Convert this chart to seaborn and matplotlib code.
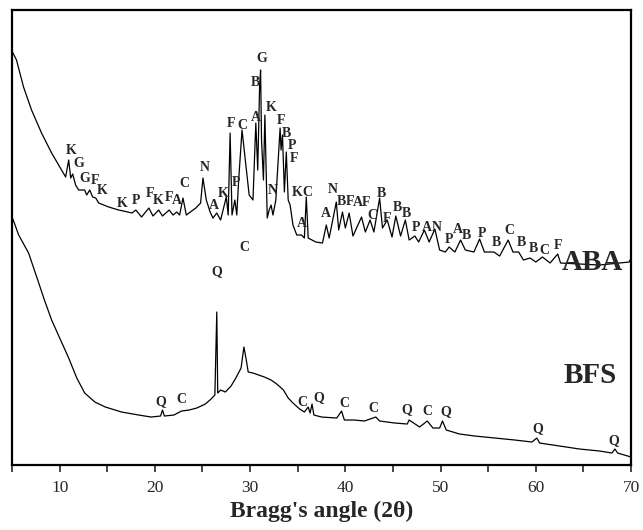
import matplotlib
matplotlib.use("Agg")
import matplotlib.pyplot as plt
import seaborn as sns
import pandas as pd

# ABA trace (2theta, intensity in arbitrary units)
aba_2theta = [5.05, 5.47, 6.21, 7.05, 8.1, 9.16, 10.2, 10.63, 10.95, 11.16, 11.37, 11.68, 12.0,
              12.63, 12.84, 13.16, 13.47, 13.79, 14.1, 15.16, 16.2, 16.7, 17.6, 18.0, 18.6,
              19.37, 19.8, 20.4, 20.8, 21.5, 21.9, 22.3, 22.6, 22.95, 23.3, 24.3, 24.8, 25.05,
              25.4, 25.8, 26.1, 26.5, 26.9, 27.5, 27.7, 27.9, 28.1, 28.4, 28.6, 28.8, 29.15,
              29.5, 29.9, 30.3, 30.6, 30.8, 31.0, 31.1, 31.2, 31.4, 31.55, 31.8, 32.0, 32.2,
              32.4, 32.7, 33.15, 33.25, 33.4, 33.6, 33.8, 34.0, 34.2, 34.5, 34.9, 35.4, 35.7,
              35.9, 36.1, 36.9, 37.6, 38.0, 38.3, 39.05, 39.3, 39.7, 40.0, 40.4, 40.8, 41.7,
              42.1, 42.6, 43.0, 43.6, 43.9, 44.4, 44.9, 45.3, 45.8, 46.3, 46.7, 47.3, 47.7,
              48.3, 48.8, 49.4, 49.9, 50.5, 50.9, 51.5, 52.1, 52.6, 53.5, 54.1, 54.6, 55.2,
              55.6, 56.2, 57.1, 57.6, 58.2, 58.7, 59.4, 60.0, 60.7, 61.5, 62.3, 62.6, 64.6,
              66.7, 68.8, 69.8, 70.0]
aba_intensity = [413, 405, 378, 355, 332, 312, 295, 288, 305, 287, 291, 280, 275,
                 275, 270, 275, 268, 267, 262, 258, 255, 254, 252, 255, 248,
                 257, 249, 255, 249, 255, 250, 253, 250, 267, 250, 257, 262, 287,
                 265, 253, 247, 252, 245, 268, 250, 332, 250, 265, 250, 285, 335,
                 305, 270, 265, 342, 295, 380, 395, 325, 285, 350, 247, 255, 260,
                 250, 265, 337, 315, 330, 273, 313, 265, 260, 240, 230, 230, 227,
                 268, 227, 223, 222, 240, 227, 263, 235, 253, 237, 252, 229, 248,
                 233, 245, 233, 267, 237, 245, 228, 249, 229, 245, 225, 229, 223,
                 235, 223, 236, 215, 213, 218, 213, 225, 215, 213, 226, 213, 213,
                 213, 209, 225, 213, 213, 205, 207, 203, 208, 202, 211, 202, 201,
                 200, 202, 203, 207]

# BFS trace
bfs_2theta = [5.05, 5.7, 6.74, 7.7, 8.4, 9.16, 10.1, 10.95, 11.8, 12.63, 13.7, 14.8, 16.5,
              18.3, 19.6, 20.6, 20.8, 21.0, 22.0, 22.8, 23.6, 24.4, 25.3, 25.9, 26.3, 26.5,
              26.6, 26.9, 27.4, 28.0, 28.5, 29.05, 29.35, 29.6, 29.8, 30.3, 30.9, 31.5, 32.2,
              32.8, 33.5, 34.0, 34.5, 35.2, 35.7, 36.1, 36.3, 36.5, 36.7, 37.5, 39.1, 39.6,
              39.9, 40.95, 42.0, 43.2, 43.6, 45.2, 46.5, 46.7, 47.8, 48.6, 49.2, 49.9, 50.2,
              50.6, 52.0, 53.6, 55.7, 57.8, 59.6, 60.1, 60.4, 62.5, 64.6, 66.7, 68.0, 68.3,
              68.6, 70.0]
bfs_intensity = [247, 230, 212, 185, 165, 145, 125, 107, 87, 72, 63, 58, 53,
                 50, 48, 49, 55, 49, 50, 54, 55, 57, 61, 66, 70, 153,
                 72, 75, 73, 79, 87, 97, 118, 105, 93, 92, 90, 88, 85,
                 81, 75, 67, 62, 56, 53, 58, 52, 61, 50, 48, 47, 54,
                 45, 45, 44, 48, 44, 42, 41, 45, 38, 44, 37, 37, 44,
                 35, 31, 29, 27, 25, 23, 27, 22, 19, 16, 14, 12, 16,
                 12, 8]

# phase labels: letter, 2theta, height
aba_labels = ["K", "G", "G", "F", "K", "K", "P", "F", "K", "F", "A", "C", "N", "A", "K", "P",
              "F", "C", "A", "B", "G", "K", "F", "B", "P", "F", "N", "K", "C", "A", "A", "N",
              "B", "F", "A", "F", "C", "B", "F", "B", "B", "P", "A", "N", "P", "A", "B", "P",
              "B", "C", "B", "B", "C", "F"]
aba_label_x = [11.26, 12.0, 12.6, 13.75, 14.5, 16.53, 18.0, 19.47, 20.3, 21.47, 22.3, 23.05,
               25.26, 26.2, 27.16, 28.5, 28.0, 29.16, 30.6, 30.6, 31.26, 32.2, 33.26, 33.8,
               34.4, 34.6, 32.4, 34.96, 36.0, 35.4, 38.0, 38.7, 39.6, 40.45, 41.35, 42.2, 42.8,
               43.8, 44.4, 45.5, 46.4, 47.4, 48.6, 49.6, 50.9, 51.85, 52.75, 54.3, 55.9, 57.2,
               58.5, 59.7, 60.95, 62.3]
aba_label_y = [315, 302, 287, 285, 275, 262, 265, 272, 265, 268, 265, 282,
               298, 260, 272, 283, 342, 340, 348, 383, 407, 358, 345, 332,
               320, 307, 275, 273, 273, 242, 252, 276, 264, 264, 263, 263, 250,
               272, 247, 258, 252, 238, 238, 238, 226, 236, 230, 232, 223, 235,
               223, 217, 215, 220]

bfs_labels = ["Q", "C", "Q", "C", "C", "Q", "C", "C", "Q", "C", "Q", "Q", "Q"]
bfs_label_x = [20.6, 22.8, 26.5, 29.35, 35.5, 37.2, 39.9, 42.9, 46.5, 48.6, 50.5, 60.2, 68.2]
bfs_label_y = [63, 66, 193, 218, 63, 67, 62, 57, 55, 54, 53, 36, 24]

sns.set_style("ticks")
plt.rcParams['font.family'] = ['Liberation Serif', 'DejaVu Serif']

df = pd.concat([
    pd.DataFrame({'angle': aba_2theta, 'intensity': aba_intensity, 'sample': 'ABA'}),
    pd.DataFrame({'angle': bfs_2theta, 'intensity': bfs_intensity, 'sample': 'BFS'}),
])

fig = plt.figure(figsize=(6.43, 5.30), dpi=100)
ax = fig.add_axes([0.0187, 0.1226, 0.9627, 0.8585])

sns.lineplot(data=df, x='angle', y='intensity', units='sample', estimator=None,
             sort=False, color='black', linewidth=0.9, ax=ax)

for t, x, y in zip(aba_labels, aba_label_x, aba_label_y):
    ax.text(x, y, t, ha='center', va='center', fontsize=10, fontweight='bold')
for t, x, y in zip(bfs_labels, bfs_label_x, bfs_label_y):
    ax.text(x, y, t, ha='center', va='center', fontsize=10, fontweight='bold')

ax.text(65.9, 203, "ABA", ha='center', va='center', fontsize=21, fontweight='bold')
ax.text(65.7, 90, "BFS", ha='center', va='center', fontsize=21, fontweight='bold')

ax.set_xlim(5, 70)
ax.set_ylim(0, 455)
ax.set_xticks([10, 20, 30, 40, 50, 60, 70])
ax.set_xticks(list(range(5, 71, 5)), minor=True)
ax.tick_params(axis='x', which='both', direction='out', length=5, width=1.2,
               labelsize=12.5, pad=6)
ax.set_yticks([])
ax.set_ylabel('')
ax.set_xlabel("Bragg's angle (2\u03b8)", fontsize=17, fontweight='bold', labelpad=3)
for s in ax.spines.values():
    s.set_visible(True)
    s.set_linewidth(1.6)
    s.set_color('black')

fig.savefig('out.png', dpi=100)
